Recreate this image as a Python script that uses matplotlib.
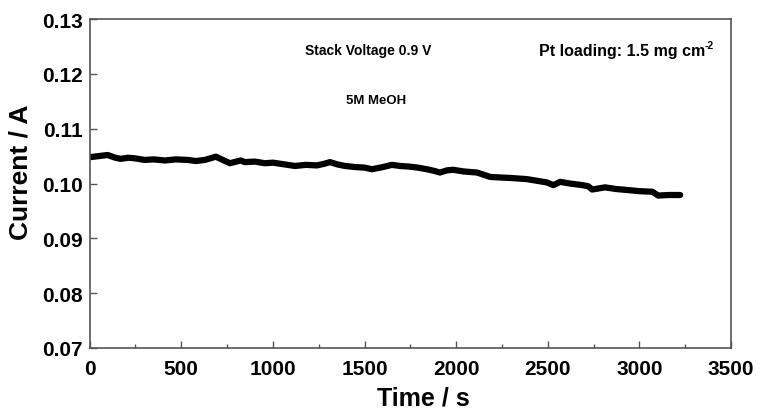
import matplotlib
matplotlib.use("Agg")
import matplotlib.pyplot as plt
from matplotlib.ticker import MultipleLocator, FormatStrFormatter

# chronoamperometry at 0.9 V stack voltage
time_s = [0, 50, 98, 140, 169, 210, 246, 300, 350, 410, 470, 535, 580, 628,
          660, 688, 720, 765, 800, 825, 846, 900, 955, 1000, 1060, 1120, 1180,
          1240, 1280, 1311, 1350, 1393, 1450, 1500, 1540, 1600, 1649, 1693,
          1740, 1790, 1840, 1880, 1911, 1950, 1984, 2040, 2113, 2150, 2185,
          2240, 2300, 2385, 2440, 2494, 2530, 2567, 2620, 2688, 2720, 2742,
          2812, 2870, 2938, 3000, 3070, 3102, 3160, 3222]
current_a = [0.1048, 0.1050, 0.1052, 0.1047, 0.1045, 0.1047, 0.1046, 0.1043,
             0.1044, 0.1042, 0.1044, 0.1043, 0.1041, 0.1043, 0.1046, 0.1049,
             0.1044, 0.1037, 0.1040, 0.1042, 0.1039, 0.1040, 0.1037, 0.1038,
             0.1035, 0.1032, 0.1034, 0.1033, 0.1036, 0.1039, 0.1035, 0.1032,
             0.1030, 0.1029, 0.1026, 0.1030, 0.1034, 0.1032, 0.1031, 0.1029,
             0.1026, 0.1023, 0.1020, 0.1024, 0.1025, 0.1022, 0.1020, 0.1016,
             0.1012, 0.1011, 0.1010, 0.1008, 0.1005, 0.1002, 0.0997, 0.1003,
             0.1000, 0.0997, 0.0995, 0.0989, 0.0993, 0.0990, 0.0988, 0.0986,
             0.0985, 0.0978, 0.0979, 0.0979]

plt.rcParams['font.family'] = ['Liberation Sans', 'DejaVu Sans']
plt.rcParams['font.weight'] = 'bold'

fig = plt.figure(figsize=(7.6, 4.1), dpi=100)
ax = fig.add_axes([0.118, 0.149, 0.844, 0.802])

ax.plot(time_s, current_a, color='black', lw=4.5, solid_capstyle='round',
        solid_joinstyle='round')

ax.set_xlim(0, 3500)
ax.set_ylim(0.07, 0.13)
ax.xaxis.set_major_locator(MultipleLocator(500))
ax.xaxis.set_minor_locator(MultipleLocator(250))
ax.yaxis.set_major_locator(MultipleLocator(0.01))
ax.yaxis.set_major_formatter(FormatStrFormatter('%.2f'))
ax.tick_params(which='both', direction='in', top=False, right=False,
               labelsize=15, color='#555555')
ax.tick_params(which='major', length=5, width=1)
ax.tick_params(which='minor', length=3, width=1)
ax.tick_params(axis='x', pad=8)
ax.tick_params(axis='y', pad=5)
for s in ax.spines.values():
    s.set_color('#555555')
    s.set_linewidth(1.2)

ax.set_xlabel('Time / s', fontsize=18, fontweight='bold')
ax.xaxis.set_label_coords(0.52, -0.115)
ax.set_ylabel('Current / A', fontsize=19, fontweight='bold')
ax.yaxis.set_label_coords(-0.089, 0.538)

ax.text(0.335, 0.905, 'Stack Voltage 0.9 V', transform=ax.transAxes,
        fontsize=10, fontweight='bold', ha='left', va='center')
ax.text(0.4, 0.755, '5M MeOH', transform=ax.transAxes,
        fontsize=9.5, fontweight='bold', ha='left', va='center')
ax.text(0.70, 0.903, 'Pt loading: 1.5 mg cm', transform=ax.transAxes,
        fontsize=11.5, fontweight='bold', ha='left', va='center')
ax.text(0.958, 0.922, '-2', transform=ax.transAxes,
        fontsize=7.5, fontweight='bold', ha='left', va='center')

fig.savefig('out.png', dpi=100)
